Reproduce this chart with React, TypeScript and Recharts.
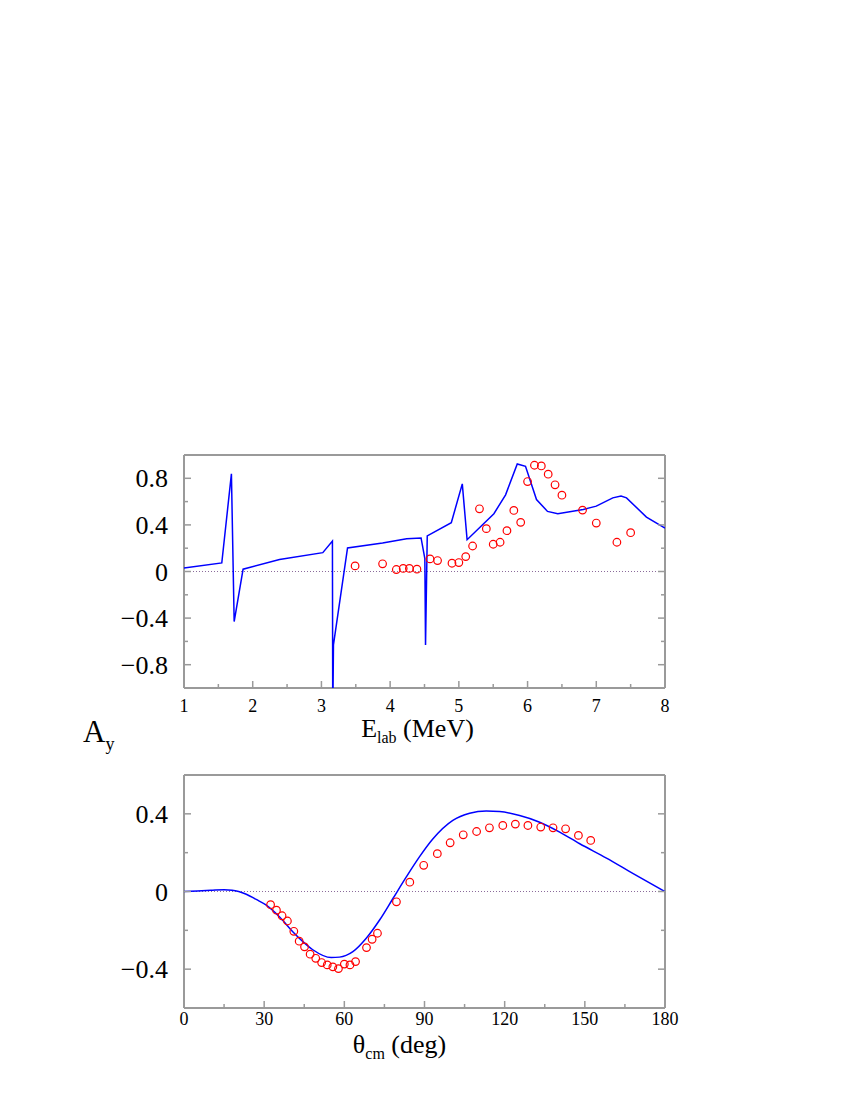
import React from 'react';
import { ComposedChart, Scatter, XAxis, YAxis, ReferenceLine } from 'recharts';

const FONT = "'Liberation Serif', 'Times New Roman', serif";
const FRAME = '#9a9a9a';
const BLUE = '#0000ff';
const RED = '#ff0000';
const ZERO_LINE = '#8b6b9b';

// ---------- Top panel: A_y vs E_lab ----------
const energyTicks = [1, 1.5, 2, 2.5, 3, 3.5, 4, 4.5, 5, 5.5, 6, 6.5, 7, 7.5, 8];
const energyMajor = [1, 2, 3, 4, 5, 6, 7, 8];
const topAyTicks = [-0.8, -0.6, -0.4, -0.2, 0, 0.2, 0.4, 0.6, 0.8];
const topAyMajor = [-0.8, -0.4, 0, 0.4, 0.8];

const energyCurveE = [
  1.0, 1.55, 1.69, 1.73, 1.86, 2.39, 3.02, 3.16, 3.165, 3.175, 3.38, 3.89, 4.24, 4.45,
  4.505, 4.515, 4.54, 4.89, 5.05, 5.12, 5.51, 5.68, 5.85, 5.97, 6.13, 6.29, 6.44, 6.81,
  7.0, 7.24, 7.36, 7.44, 7.73, 8.0,
];
const energyCurveAy = [
  0.031, 0.074, 0.838, -0.43, 0.02, 0.103, 0.162, 0.262, -1.3, -0.63, 0.202, 0.245, 0.282, 0.288,
  0.11, -0.63, 0.305, 0.419, 0.752, 0.273, 0.496, 0.658, 0.923, 0.903, 0.618, 0.516, 0.496, 0.533,
  0.561, 0.632, 0.647, 0.632, 0.467, 0.373,
];

const energyDataE = [
  3.49, 3.89, 4.09, 4.19, 4.28, 4.39, 4.58, 4.69, 4.9, 5.0, 5.1, 5.2, 5.3, 5.4, 5.5,
  5.6, 5.7, 5.8, 5.9, 6.0, 6.1, 6.2, 6.3, 6.4, 6.5, 6.8, 7.0, 7.3, 7.5,
];
const energyDataAy = [
  0.048, 0.066, 0.017, 0.026, 0.026, 0.02, 0.108, 0.094, 0.071, 0.077, 0.128, 0.219, 0.538, 0.368, 0.234,
  0.251, 0.35, 0.524, 0.422, 0.772, 0.912, 0.906, 0.835, 0.744, 0.655, 0.527, 0.416, 0.251, 0.333,
];

// ---------- Bottom panel: A_y vs theta_cm ----------
const angleTicks = [0, 15, 30, 45, 60, 75, 90, 105, 120, 135, 150, 165, 180];
const angleMajor = [0, 30, 60, 90, 120, 150, 180];
const botAyTicks = [-0.4, -0.2, 0, 0.2, 0.4];
const botAyMajor = [-0.4, 0, 0.4];

const angleCurveTheta = [
  0, 10, 15, 18, 23.3, 27, 30.5, 35.7, 40.7, 44.5, 48.2, 55.1, 58.2, 63.2, 68.2, 73.2,
  78.2, 83.2, 88.1, 93.1, 100.6, 106.9, 113.1, 118.1, 125.6, 133.1, 140.6, 148.1, 158.1, 168.1, 180,
];
const angleCurveAy = [
  0, 0.006, 0.009, 0.007, -0.014, -0.041, -0.068, -0.13, -0.207, -0.258, -0.3, -0.34, -0.338, -0.31, -0.241, -0.147,
  -0.036, 0.075, 0.178, 0.27, 0.366, 0.403, 0.415, 0.412, 0.391, 0.357, 0.306, 0.246, 0.172, 0.092, 0,
];

const angleDataTheta = [
  32.4, 34.6, 36.7, 38.7, 41.1, 43.1, 45.1, 47.2, 49.3, 51.5, 53.6, 55.7, 57.8, 60.0, 62.1, 64.2,
  68.3, 70.4, 72.4, 79.5, 84.5, 89.7, 94.8, 99.6, 104.5, 109.5, 114.3, 119.3, 124.0, 128.7, 133.5,
  138.1, 142.8, 147.6, 152.2,
];
const angleDataAy = [
  -0.068, -0.096, -0.125, -0.152, -0.205, -0.256, -0.285, -0.323, -0.344, -0.366, -0.378, -0.388, -0.397, -0.374, -0.378, -0.361,
  -0.289, -0.246, -0.215, -0.053, 0.048, 0.135, 0.195, 0.251, 0.292, 0.309, 0.328, 0.34, 0.347, 0.34, 0.332,
  0.328, 0.323, 0.289, 0.263,
];

const zip = (xs: number[], ys: number[]) => xs.map((x, i) => ({ x, y: ys[i] }));
const energyCurve = zip(energyCurveE, energyCurveAy);
const energyData = zip(energyDataE, energyDataAy);
const angleCurve = zip(angleCurveTheta, angleCurveAy);
const angleData = zip(angleDataTheta, angleDataAy);

const isIn = (list: number[], v: number) => list.some((m) => Math.abs(m - v) < 1e-9);
const fmtNum = (v: number) =>
  (v < -1e-9 ? '\u2212' : '') + String(Math.round(Math.abs(v) * 1000) / 1000);

const MAJOR_LEN = 7;
const MINOR_LEN = 4;
const textStyle = { fontFamily: FONT };

const bottomTick = (majors: number[], margin: number, fontSize: number) => (p: any) => {
  const v = p.payload.value;
  const major = isIn(majors, v);
  const edge = p.y - margin;
  return (
    <g>
      <line x1={p.x} x2={p.x} y1={edge} y2={edge - (major ? MAJOR_LEN : MINOR_LEN)} stroke={FRAME} strokeWidth={1.5} />
      {major && (
        <text x={p.x} y={p.y} textAnchor="middle" fontSize={fontSize} style={textStyle} fill="#000">
          {fmtNum(v)}
        </text>
      )}
    </g>
  );
};

const topTick = (majors: number[]) => (p: any) => {
  const major = isIn(majors, p.payload.value);
  return (
    <line x1={p.x} x2={p.x} y1={p.y} y2={p.y + (major ? MAJOR_LEN : MINOR_LEN)} stroke={FRAME} strokeWidth={1.5} />
  );
};

const leftTick = (majors: number[], margin: number, fontSize: number) => (p: any) => {
  const v = p.payload.value;
  const major = isIn(majors, v);
  const edge = p.x + margin;
  return (
    <g>
      <line x1={edge} x2={edge + (major ? MAJOR_LEN : MINOR_LEN)} y1={p.y} y2={p.y} stroke={FRAME} strokeWidth={1.5} />
      {major && (
        <text x={p.x} y={p.y} dy="0.35em" textAnchor="end" fontSize={fontSize} style={textStyle} fill="#000">
          {fmtNum(v)}
        </text>
      )}
    </g>
  );
};

const rightTick = (majors: number[]) => (p: any) => {
  const major = isIn(majors, p.payload.value);
  return (
    <line x1={p.x} x2={p.x - (major ? MAJOR_LEN : MINOR_LEN)} y1={p.y} y2={p.y} stroke={FRAME} strokeWidth={1.5} />
  );
};

const Ring = (p: any) => (
  <circle cx={p.cx} cy={p.cy} r={3.8} fill="none" stroke={RED} strokeWidth={1.2} />
);
const NoDot = () => <g />;

const ElabLabel = (lp: any) => {
  const vb = lp.viewBox || {};
  return (
    <text x={vb.x + vb.width / 2 - 7} y={vb.y + 49} textAnchor="middle" style={textStyle} fontSize={26} fill="#000">
      E
      <tspan fontSize={16} dy={6}>lab</tspan>
      <tspan dy={-6}> (MeV)</tspan>
    </text>
  );
};

const ThetaLabel = (lp: any) => {
  const vb = lp.viewBox || {};
  return (
    <text x={vb.x + vb.width / 2 - 25} y={vb.y + 45} textAnchor="middle" style={textStyle} fontSize={26} fill="#000">
      θ
      <tspan fontSize={16} dy={6}>cm</tspan>
      <tspan dy={-6}> (deg)</tspan>
    </text>
  );
};

const AyLabel = (lp: any) => {
  const vb = lp.viewBox || {};
  return (
    <text x={vb.x - 41} y={vb.y + vb.height + 54} style={textStyle} fontSize={31} fill="#000">
      A
      <tspan fontSize={18} dy={8}>y</tspan>
    </text>
  );
};

const axisLineStyle = { stroke: FRAME, strokeWidth: 2 };

export default function App() {
  return (
    <div style={{ position: 'absolute', left: 0, top: 0, width: 850, height: 1100, background: '#fff', fontFamily: FONT }}>
      <div style={{ position: 'absolute', left: 0, top: 0 }}>
        <ComposedChart width={850} height={760} margin={{ top: 454, right: 184, bottom: 12, left: 124 }}>
          <XAxis
            xAxisId="b" dataKey="x" type="number" domain={[1, 8]} ticks={energyTicks} interval={0}
            allowDataOverflow orientation="bottom" height={60} tickSize={0} tickMargin={24}
            tickLine={false} axisLine={axisLineStyle} tick={bottomTick(energyMajor, 24, 18)}
            label={{ content: ElabLabel }}
          />
          <XAxis
            xAxisId="t" type="number" domain={[1, 8]} ticks={energyTicks} interval={0}
            allowDataOverflow orientation="top" height={1} tickSize={0} tickMargin={0}
            tickLine={false} axisLine={axisLineStyle} tick={topTick(energyMajor)}
          />
          <YAxis
            yAxisId="l" dataKey="y" type="number" domain={[-1, 1]} ticks={topAyTicks} interval={0}
            allowDataOverflow orientation="left" width={60} tickSize={0} tickMargin={16}
            tickLine={false} axisLine={axisLineStyle} tick={leftTick(topAyMajor, 16, 26)}
            label={{ content: AyLabel }}
          />
          <YAxis
            yAxisId="r" type="number" domain={[-1, 1]} ticks={topAyTicks} interval={0}
            allowDataOverflow orientation="right" width={1} tickSize={0} tickMargin={0}
            tickLine={false} axisLine={axisLineStyle} tick={rightTick(topAyMajor)}
          />
          <ReferenceLine xAxisId="b" yAxisId="l" y={0} stroke={ZERO_LINE} strokeDasharray="1 2" strokeWidth={1} />
          <Scatter
            xAxisId="b" yAxisId="l" data={energyCurve} line={{ stroke: BLUE, strokeWidth: 1.5 }}
            shape={NoDot} isAnimationActive={false}
          />
          <Scatter xAxisId="b" yAxisId="l" data={energyData} shape={Ring} isAnimationActive={false} />
        </ComposedChart>
      </div>
      <div style={{ position: 'absolute', left: 0, top: 760 }}>
        <ComposedChart width={850} height={340} margin={{ top: 14, right: 184, bottom: 32, left: 124 }}>
          <XAxis
            xAxisId="b" dataKey="x" type="number" domain={[0, 180]} ticks={angleTicks} interval={0}
            allowDataOverflow orientation="bottom" height={60} tickSize={0} tickMargin={17}
            tickLine={false} axisLine={axisLineStyle} tick={bottomTick(angleMajor, 17, 18)}
            label={{ content: ThetaLabel }}
          />
          <XAxis
            xAxisId="t" type="number" domain={[0, 180]} ticks={angleTicks} interval={0}
            allowDataOverflow orientation="top" height={1} tickSize={0} tickMargin={0}
            tickLine={false} axisLine={axisLineStyle} tick={topTick(angleMajor)}
          />
          <YAxis
            yAxisId="l" dataKey="y" type="number" domain={[-0.6, 0.6]} ticks={botAyTicks} interval={0}
            allowDataOverflow orientation="left" width={60} tickSize={0} tickMargin={16}
            tickLine={false} axisLine={axisLineStyle} tick={leftTick(botAyMajor, 16, 26)}
          />
          <YAxis
            yAxisId="r" type="number" domain={[-0.6, 0.6]} ticks={botAyTicks} interval={0}
            allowDataOverflow orientation="right" width={1} tickSize={0} tickMargin={0}
            tickLine={false} axisLine={axisLineStyle} tick={rightTick(botAyMajor)}
          />
          <ReferenceLine xAxisId="b" yAxisId="l" y={0} stroke={ZERO_LINE} strokeDasharray="1 2" strokeWidth={1} />
          <Scatter
            xAxisId="b" yAxisId="l" data={angleCurve} line={{ stroke: BLUE, strokeWidth: 1.5 }}
            lineJointType="monotoneX" shape={NoDot} isAnimationActive={false}
          />
          <Scatter xAxisId="b" yAxisId="l" data={angleData} shape={Ring} isAnimationActive={false} />
        </ComposedChart>
      </div>
    </div>
  );
}
